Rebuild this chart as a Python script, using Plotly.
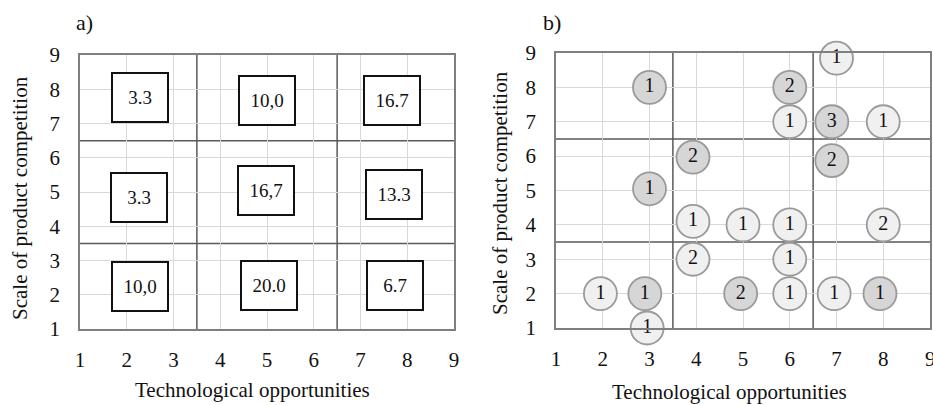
import plotly.graph_objects as go

# ---- data ----
tick_vals = [1, 2, 3, 4, 5, 6, 7, 8, 9]
zone_bounds = [3.5, 6.5]

# panel a: share of firms (%) in each zone
cell_labels = ["3.3", "10,0", "16.7", "3.3", "16,7", "13.3", "10,0", "20.0", "6.7"]
cell_x = [2.29, 5.00, 7.67, 2.26, 4.97, 7.71, 2.29, 5.04, 7.74]
cell_y = [7.75, 7.66, 7.66, 4.85, 5.03, 4.94, 2.23, 2.28, 2.28]

# panel b: number of firms at each point (light / dark groups)
light_x = [7.0, 6.0, 8.0, 3.93, 5.0, 6.0, 8.0, 3.93, 6.0, 1.95, 6.0, 6.95, 2.95]
light_y = [8.85, 7.0, 7.0, 4.1, 4.0, 4.0, 4.0, 3.0, 3.0, 2.0, 2.0, 2.0, 1.0]
light_n = [1, 1, 1, 1, 1, 1, 2, 2, 1, 1, 1, 1, 1]

dark_x = [3.0, 6.0, 6.9, 3.93, 6.9, 3.0, 2.9, 4.95, 7.93]
dark_y = [8.0, 8.0, 7.0, 5.97, 5.87, 5.05, 2.0, 2.0, 2.0]
dark_n = [1, 2, 3, 2, 2, 1, 1, 2, 1]

FONT = "Liberation Serif"
W, H = 933, 405
INK = "#111111"

fig = go.Figure()

# invisible trace to anchor panel a axes
fig.add_trace(go.Scatter(x=[None], y=[None], xaxis="x", yaxis="y",
                         showlegend=False, hoverinfo="skip"))

for xs, ys, ns, fill in [(light_x, light_y, light_n, "#f0f0f0"),
                         (dark_x, dark_y, dark_n, "#d6d6d6")]:
    fig.add_trace(go.Scatter(
        x=xs, y=ys, text=[str(n) for n in ns], mode="markers+text",
        xaxis="x2", yaxis="y2", showlegend=False, cliponaxis=False,
        marker=dict(size=33, color=fill, line=dict(color="#9a9a9a", width=1.8)),
        textfont=dict(family=FONT, size=20, color=INK),
        textposition="middle center",
    ))

axis_common = dict(
    range=[1, 9], tickvals=tick_vals, showgrid=True, gridcolor="#d9d9d9",
    gridwidth=1, zeroline=False, showline=True, linecolor="#7f7f7f",
    linewidth=1.5, mirror=True, ticks="",
    tickfont=dict(family=FONT, size=21, color=INK), fixedrange=True,
    automargin=False,
)

pa_x = [80 / W, 454 / W]
pb_x = [556 / W, 930 / W]
pa_y = [(H - 329) / H, (H - 55) / H]
pb_y = [(H - 328) / H, (H - 53) / H]

fig.update_layout(
    width=W, height=H, margin=dict(l=0, r=0, t=0, b=0, pad=0, autoexpand=False),
    paper_bgcolor="white", plot_bgcolor="white",
    xaxis=dict(domain=pa_x, anchor="y", ticklabelstandoff=11, **axis_common),
    yaxis=dict(domain=pa_y, anchor="x", ticklabelstandoff=14, **axis_common),
    xaxis2=dict(domain=pb_x, anchor="y2", ticklabelstandoff=11, **axis_common),
    yaxis2=dict(domain=pb_y, anchor="x2", ticklabelstandoff=14, **axis_common),
)

# zone separators
shapes = []
for xr, yr in [("x", "y"), ("x2", "y2")]:
    for b in zone_bounds:
        shapes.append(dict(type="line", xref=xr, yref=yr, x0=b, x1=b, y0=1, y1=9,
                           line=dict(color="#595959", width=1.5), layer="below"))
        shapes.append(dict(type="line", xref=xr, yref=yr, x0=1, x1=9, y0=b, y1=b,
                           line=dict(color="#595959", width=1.5), layer="below"))
fig.update_layout(shapes=shapes)

ann = []
# boxed percentages in panel a
for lab, cx, cy in zip(cell_labels, cell_x, cell_y):
    ann.append(dict(x=cx, y=cy, xref="x", yref="y", text=lab, showarrow=False,
                    xanchor="center", yanchor="middle",
                    width=54, height=47, borderpad=0, bordercolor=INK,
                    borderwidth=2, bgcolor="white", align="center", valign="middle",
                    font=dict(family=FONT, size=19, color=INK)))

# last x tick of panel b runs past the page edge; draw it so it is cut off there
ann.append(dict(x=tick_vals[-1], xref="x2", y=1 - 359 / H, yref="paper",
                text=str(tick_vals[-1]), showarrow=False, xanchor="center",
                yanchor="middle", font=dict(family=FONT, size=21, color=INK)))

# panel labels and axis titles
title_font = dict(family=FONT, size=21, color=INK)
for txt, px, py in [("a)", 84, 22), ("b)", 552, 22)]:
    ann.append(dict(x=px / W, y=1 - py / H, xref="paper", yref="paper", text=txt,
                    xanchor="center", yanchor="middle", showarrow=False,
                    font=dict(family=FONT, size=22, color=INK)))
for px, py in [(253, 390), (729, 392)]:
    ann.append(dict(x=px / W, y=1 - py / H, xref="paper", yref="paper",
                    xanchor="center", yanchor="middle",
                    text="Technological opportunities", showarrow=False, font=title_font))
for px, py in [(20, 198), (500, 193)]:
    ann.append(dict(x=px / W, y=1 - py / H, xref="paper", yref="paper",
                    xanchor="center", yanchor="middle",
                    text="Scale of product competition", textangle=-90,
                    showarrow=False, font=title_font))
fig.update_layout(annotations=ann)

fig.write_html("out.html")
